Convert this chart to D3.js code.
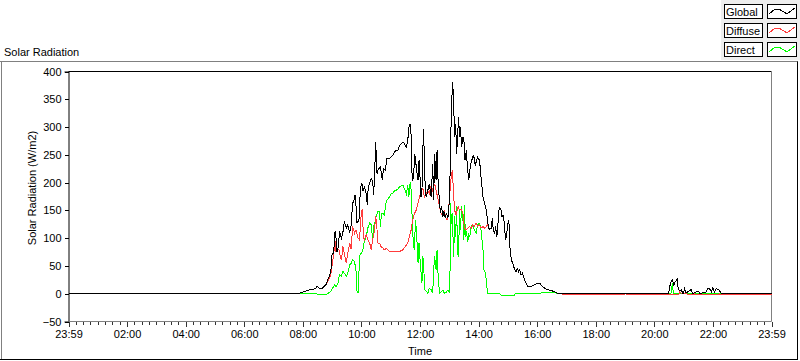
<!DOCTYPE html>
<html><head><meta charset="utf-8">
<script src="https://cdn.jsdelivr.net/npm/d3@7"></script>
<style>
body{margin:0;background:#fff;}
svg{display:block;font-family:"Liberation Sans",Arial,sans-serif;font-size:11px;}
</style></head><body>
<svg id="c" width="800" height="361"></svg>
<script>
const seriesNames = ["Global","Diffuse","Direct"];
const seriesColors = ["#000000","#ff3c3c","#00ff00"];
// [minute of day, W/m2]
const globalData = [[0,0],[465,0],[473,1],[487,5],[494,7],[500,8],[506,9],[509,14],[514,10],[520,10],[528,17],[531,25],[535,33],[538,45],[540,73],[543,72],[546,112],[548,100],[550,75],[553,85],[555,112],[559,100],[562,110],[565,130],[569,118],[572,124],[576,110],[579,124],[582,163],[584,166],[587,178],[589,157],[591,127],[595,133],[598,192],[601,198],[603,185],[606,192],[610,180],[612,160],[614,192],[617,200],[620,207],[623,203],[625,178],[627,211],[629,273],[631,240],[632,216],[635,225],[639,228],[643,204],[645,226],[649,222],[652,243],[656,243],[661,246],[664,249],[668,255],[671,258],[675,258],[678,267],[682,270],[685,273],[688,270],[692,264],[695,276],[697,298],[700,306],[702,282],[704,204],[707,210],[709,252],[711,240],[713,222],[716,204],[718,240],[720,210],[722,174],[724,186],[727,297],[729,246],[731,180],[733,174],[736,186],[739,198],[743,174],[746,234],[748,168],[750,252],[753,204],[755,258],[757,204],[760,163],[762,145],[764,157],[767,139],[769,148],[772,136],[774,145],[777,136],[779,151],[781,190],[783,282],[785,348],[787,381],[789,340],[791,282],[793,306],[795,252],[797,282],[799,318],[801,282],[803,300],[805,264],[808,282],[810,276],[812,240],[815,258],[817,228],[820,204],[822,222],[825,237],[828,246],[830,249],[833,231],[836,240],[838,246],[842,240],[845,210],[849,174],[852,163],[856,150],[859,127],[862,115],[866,118],[868,136],[870,115],[873,109],[875,121],[877,103],[879,112],[881,148],[883,154],[886,151],[888,139],[890,142],[893,127],[895,97],[897,103],[900,127],[902,133],[904,85],[907,61],[910,55],[914,43],[917,40],[919,46],[922,40],[924,43],[927,34],[930,37],[934,25],[937,19],[941,13],[948,13],[955,16],[961,19],[965,19],[968,16],[975,10],[982,7],[989,6],[996,3],[1002,1],[1006,0],[1229,0],[1233,19],[1237,25],[1240,15],[1243,22],[1247,26],[1249,8],[1252,5],[1255,7],[1259,0],[1262,9],[1265,1],[1276,8],[1278,0],[1291,5],[1293,0],[1306,3],[1310,10],[1313,9],[1317,3],[1320,11],[1323,3],[1327,9],[1331,8],[1337,1],[1340,0],[1440,0]];
const diffuseData = [[0,0],[465,0],[473,1],[487,5],[494,7],[500,8],[506,9],[509,13],[514,10],[520,10],[528,17],[531,22],[535,28],[538,38],[543,70],[546,94],[548,75],[551,78],[554,80],[557,65],[559,60],[562,85],[565,73],[569,55],[572,73],[576,91],[579,80],[582,121],[586,109],[589,115],[593,100],[596,97],[600,148],[602,151],[604,103],[606,97],[610,106],[613,97],[617,91],[620,79],[623,97],[627,115],[629,139],[631,127],[634,91],[637,91],[640,85],[644,82],[647,79],[651,82],[657,76],[664,76],[671,76],[678,76],[685,79],[690,85],[695,91],[698,103],[702,115],[705,133],[709,145],[712,150],[716,163],[719,174],[722,186],[726,189],[729,174],[733,180],[736,186],[739,180],[743,195],[746,186],[750,198],[753,186],[756,174],[760,157],[763,145],[767,139],[770,148],[774,133],[777,133],[780,168],[783,204],[786,222],[787,210],[789,175],[791,150],[794,142],[798,157],[801,151],[805,151],[808,145],[811,118],[815,115],[818,118],[821,121],[825,118],[828,124],[831,121],[835,127],[838,121],[842,124],[845,118],[849,121],[852,118],[856,121],[859,125],[862,115],[866,118],[868,136],[870,115],[873,109],[875,121],[877,103],[879,112],[881,148],[883,154],[886,151],[888,139],[890,142],[893,127],[895,97],[897,103],[900,127],[902,133],[904,85],[907,61],[910,55],[914,43],[917,40],[919,46],[922,40],[924,43],[927,34],[930,37],[934,25],[937,19],[941,13],[948,13],[955,16],[961,19],[965,19],[968,16],[975,10],[982,7],[989,6],[996,3],[1002,1],[1010,0],[1012,-2],[1065,-2],[1067,0],[1069,-2],[1139,-2],[1141,0],[1143,-2],[1205,-2],[1207,0],[1209,-2],[1250,-2],[1252,3],[1256,0],[1266,0],[1268,-2],[1280,-2],[1282,0],[1284,-2],[1331,-2],[1333,0],[1335,-2],[1393,-2],[1395,0],[1397,-2],[1407,-2],[1409,0],[1411,-2],[1440,-2]];
const directData = [[0,0],[505,0],[514,-1],[528,-1],[531,0],[535,3],[538,5],[541,10],[545,16],[548,13],[552,19],[555,34],[559,31],[562,40],[565,37],[569,31],[572,37],[576,52],[579,55],[582,61],[586,58],[589,40],[591,4],[593,1],[595,40],[597,70],[600,73],[603,79],[606,94],[610,103],[613,118],[617,127],[620,124],[623,97],[625,121],[628,130],[630,139],[634,148],[637,148],[639,121],[641,145],[644,145],[647,142],[651,168],[654,170],[657,174],[661,180],[664,180],[668,186],[671,186],[675,189],[678,192],[682,195],[685,195],[688,189],[692,180],[695,195],[697,174],[700,201],[702,186],[704,133],[705,109],[708,79],[711,133],[714,91],[716,55],[718,91],[721,49],[724,19],[726,67],[728,40],[730,7],[733,4],[736,1],[739,10],[743,7],[746,1],[748,43],[750,67],[753,43],[755,79],[757,34],[760,1],[763,3],[767,6],[770,1],[774,3],[777,6],[780,3],[782,55],[783,163],[784,125],[786,145],[789,67],[791,139],[793,103],[795,157],[797,73],[799,67],[801,151],[803,115],[805,157],[808,133],[810,97],[811,160],[813,103],[815,112],[818,94],[820,106],[822,103],[825,121],[828,124],[831,115],[835,109],[838,124],[842,127],[845,115],[849,79],[851,43],[853,40],[856,25],[858,1],[862,0],[883,0],[889,-4],[912,-4],[916,1],[965,1],[975,2],[996,2],[1006,0],[1234,0],[1237,19],[1239,0],[1440,0]];
const xMajorTicks = [0,120,240,360,480,600,720,840,960,1080,1200,1320,1440];
const xTickLabels = ["23:59","02:00","04:00","06:00","08:00","10:00","12:00","14:00","16:00","18:00","20:00","22:00","23:59"];
const yTicks = [-50,0,50,100,150,200,250,300,350,400];
const chartTitle = "Solar Radiation";
const yTitle = "Solar Radiation (W/m2)";
const xTitle = "Time";

const svg = d3.select("#c");
const x = d3.scaleLinear().domain([0,1440]).range([68.5,771.5]);
const y = d3.scaleLinear().domain([-50,400]).range([321.5,71.5]);

// outer frame
svg.append("line").attr("x1",0).attr("x2",798).attr("y1",61.5).attr("y2",61.5).attr("stroke","#808080");
svg.append("line").attr("x1",1.5).attr("x2",1.5).attr("y1",61.5).attr("y2",360).attr("stroke","#808080");
svg.append("line").attr("x1",0).attr("x2",798).attr("y1",359.5).attr("y2",359.5).attr("stroke","#000");
svg.append("line").attr("x1",797.5).attr("x2",797.5).attr("y1",61.5).attr("y2",360).attr("stroke","#000");

// title
svg.append("text").attr("x",4).attr("y",56).attr("fill","#000").text(chartTitle);

// legend
const lg = svg.append("g");
lg.append("rect").attr("x",721).attr("y",0).attr("width",79).attr("height",60).attr("fill","#eeeeee");
seriesNames.forEach((n,i)=>{
  const top = 4 + i*19;
  lg.append("rect").attr("x",724.5).attr("y",top+0.5).attr("width",38).attr("height",14).attr("fill","#fff").attr("stroke","#000");
  lg.append("rect").attr("x",767.5).attr("y",top+0.5).attr("width",29).attr("height",14).attr("fill","#fff").attr("stroke","#000");
  lg.append("text").attr("x",726).attr("y",top+12).text(n);
  lg.append("path").attr("d",`M769,${top+10}L775,${top+5}L779,${top+5}L787,${top+10}L795,${top+4}`)
    .attr("fill","none").attr("stroke",seriesColors[i]).attr("shape-rendering","crispEdges");
});

// plot borders
svg.append("line").attr("x1",68.5).attr("x2",771.5).attr("y1",71.5).attr("y2",71.5).attr("stroke","#000");
svg.append("line").attr("x1",771.5).attr("x2",771.5).attr("y1",71.5).attr("y2",321.5).attr("stroke","#808080");

// y axis
const yAxis = svg.append("g").attr("transform","translate(68.5,0)")
  .call(d3.axisLeft(y).tickValues(yTicks).tickSize(4).tickPadding(3).tickFormat(d3.format("d")));
yAxis.select(".domain").attr("stroke","#000");
yAxis.selectAll("line").attr("stroke","#000").attr("shape-rendering","crispEdges");
yAxis.selectAll("text").attr("font-family",'"Liberation Sans",Arial,sans-serif').attr("font-size",11).attr("fill","#000");

// x axis minor
const xMinor = d3.range(0,1441,15);
const xMin = svg.append("g").attr("transform","translate(0,321.5)")
  .call(d3.axisBottom(x).tickValues(xMinor).tickSize(3).tickFormat(""));
xMin.select(".domain").remove();
xMin.selectAll("line").attr("stroke","#333").attr("shape-rendering","crispEdges");
// x axis major
const xAx = svg.append("g").attr("transform","translate(0,321.5)")
  .call(d3.axisBottom(x).tickValues(xMajorTicks).tickSize(5).tickPadding(4).tickFormat((d,i)=>xTickLabels[i]));
xAx.select(".domain").attr("stroke","#808080").attr("d",`M${x(0)},0H${x(1440)}`);
xAx.selectAll("line").attr("stroke","#333").attr("shape-rendering","crispEdges");
xAx.selectAll("text").attr("font-family",'"Liberation Sans",Arial,sans-serif').attr("font-size",11).attr("fill","#000");

// axis titles
svg.append("text").attr("x",(x(0)+x(1440))/2).attr("y",355).attr("text-anchor","middle").text(xTitle);
svg.append("text").attr("transform","translate(36,188) rotate(-90)").attr("text-anchor","middle").text(yTitle);

// series (Direct, Diffuse, Global on top)
const line = d3.line().x(d=>x(d[0])).y(d=>y(d[1]));
const data = [globalData, diffuseData, directData];
[2,1,0].forEach(i=>{
  svg.append("path").datum(data[i]).attr("d",line).attr("fill","none")
    .attr("stroke",seriesColors[i]).attr("stroke-width",1).attr("shape-rendering","crispEdges");
});
</script>
</body></html>
